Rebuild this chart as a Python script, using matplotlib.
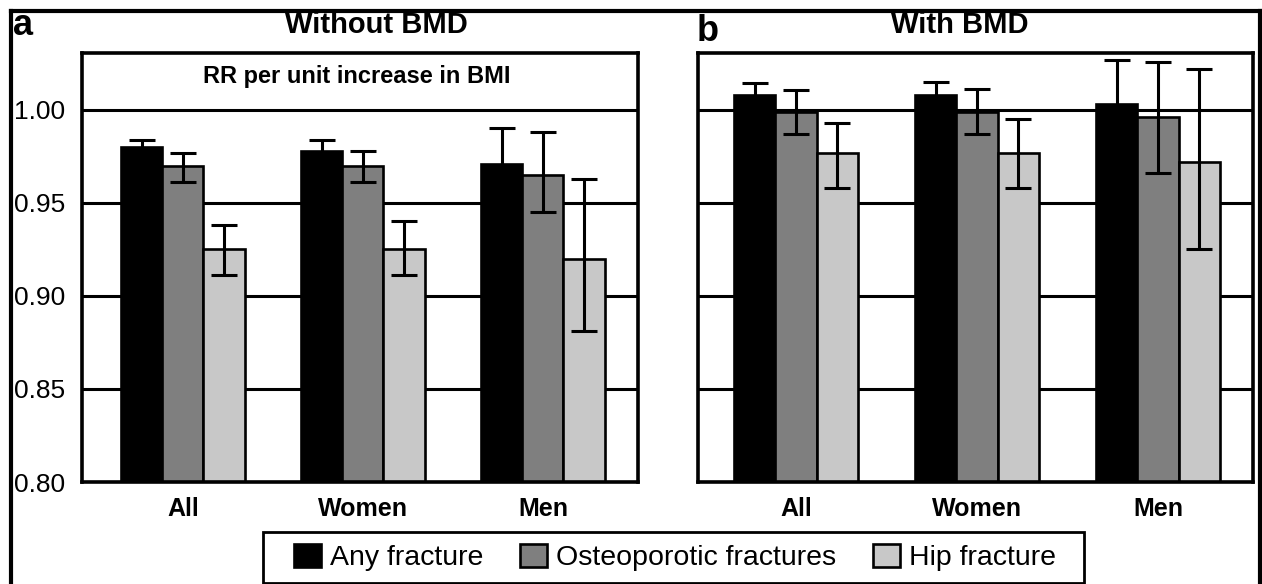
import numpy as np
import matplotlib
matplotlib.use('Agg')
import matplotlib.pyplot as plt
from matplotlib.lines import Line2D
from matplotlib.patches import Rectangle

plt.rcParams['font.family'] = 'Liberation Sans'

groups = ['All', 'Women', 'Men']
series = ['Any fracture', 'Osteoporotic fractures', 'Hip fracture']
colors = ['#000000', '#7f7f7f', '#c8c8c8']

# panel a: without BMD  (rows = series, cols = groups)
rrA = [[0.980, 0.978, 0.971],
       [0.970, 0.970, 0.965],
       [0.925, 0.925, 0.920]]
loA = [[0.976, 0.972, 0.952],
       [0.961, 0.961, 0.945],
       [0.911, 0.911, 0.881]]
hiA = [[0.984, 0.984, 0.9905],
       [0.977, 0.978, 0.988],
       [0.938, 0.9405, 0.963]]

# panel b: with BMD
rrB = [[1.008, 1.008, 1.003],
       [0.999, 0.999, 0.996],
       [0.977, 0.977, 0.972]]
loB = [[1.001, 1.001, 0.979],
       [0.987, 0.987, 0.966],
       [0.958, 0.958, 0.925]]
hiB = [[1.0147, 1.015, 1.027],
       [1.0107, 1.011, 1.026],
       [0.993, 0.995, 1.022]]

yticks = [0.80, 0.85, 0.90, 0.95, 1.00]

W, H = 1262, 584
fig = plt.figure(figsize=(W / 100, H / 100), dpi=100)
axA = fig.add_axes([82 / W, (H - 482) / H, 556 / W, 429 / H])
axB = fig.add_axes([698 / W, (H - 482) / H, 555 / W, 429 / H])

x = np.arange(len(groups))
bw = 0.228
offsets = [-0.228, 0.0, 0.228]


def draw_panel(ax, rr, lo, hi, xlim):
    handles = []
    for i in range(3):
        vals = np.array(rr[i])
        l = np.array(lo[i])
        h = np.array(hi[i])
        b = ax.bar(x + offsets[i], vals - 0.80, bw, bottom=0.80, color=colors[i],
                   edgecolor='black', linewidth=1.9, zorder=2, label=series[i])
        ax.errorbar(x + offsets[i], vals, yerr=[vals - l, h - vals], fmt='none',
                    ecolor='black', elinewidth=2.2, capsize=9.5, capthick=2.2, zorder=3)
        handles.append(b)
    ax.set_ylim(0.80, 1.0306)
    ax.set_xlim(*xlim)
    ax.set_yticks(yticks)
    ax.set_xticks(x)
    ax.set_xticklabels(groups, fontsize=18, fontweight='bold')
    ax.yaxis.grid(True, color='black', linewidth=2.2)
    ax.set_axisbelow(True)
    ax.tick_params(length=0)
    ax.tick_params(axis='x', pad=11)
    for s in ax.spines.values():
        s.set_linewidth(2.6)
    return handles


handles = draw_panel(axA, rrA, loA, hiA, (-0.561, 2.528))
draw_panel(axB, rrB, loB, hiB, (-0.541, 2.525))

axA.set_yticklabels(['%.2f' % v for v in yticks], fontsize=19)
axA.tick_params(axis='y', pad=12)
axB.set_yticklabels([])

axA.text(0.495, 1.0177, 'RR per unit increase in BMI', transform=axA.get_yaxis_transform(),
         ha='center', va='center', fontsize=17, fontweight='bold')

fig.text(376 / W, (H - 33) / H, 'Without BMD', ha='center', va='baseline',
         fontsize=21, fontweight='bold')
fig.text(960 / W, (H - 33) / H, 'With BMD', ha='center', va='baseline',
         fontsize=21, fontweight='bold')
fig.text(13 / W, (H - 35) / H, 'a', ha='left', va='baseline', fontsize=26, fontweight='bold')
fig.text(697 / W, (H - 41) / H, 'b', ha='left', va='baseline', fontsize=26, fontweight='bold')

# outer frame (top, left, right)
fy = (H - 11) / H
fig.add_artist(Line2D([11 / W, 1260 / W], [fy, fy], color='black', lw=3))
fig.add_artist(Line2D([11 / W, 11 / W], [0, fy], color='black', lw=3))
fig.add_artist(Line2D([1260 / W, 1260 / W], [0, fy], color='black', lw=3))

leg = fig.legend(handles, series, ncol=3, loc='center',
                 bbox_to_anchor=(675 / W, (H - 557.5) / H), fontsize=20.5,
                 frameon=False,
                 handlelength=0.95, handleheight=0.9, handletextpad=0.3,
                 columnspacing=1.3, borderpad=0.35)
# legend box drawn separately (wider than the entries)
fig.add_artist(Rectangle((263 / W, (H - 583) / H), (1084 - 263) / W, (583 - 532) / H,
                         transform=fig.transFigure, fill=False, edgecolor='black', lw=2))

plt.savefig('out.png', dpi=100)
